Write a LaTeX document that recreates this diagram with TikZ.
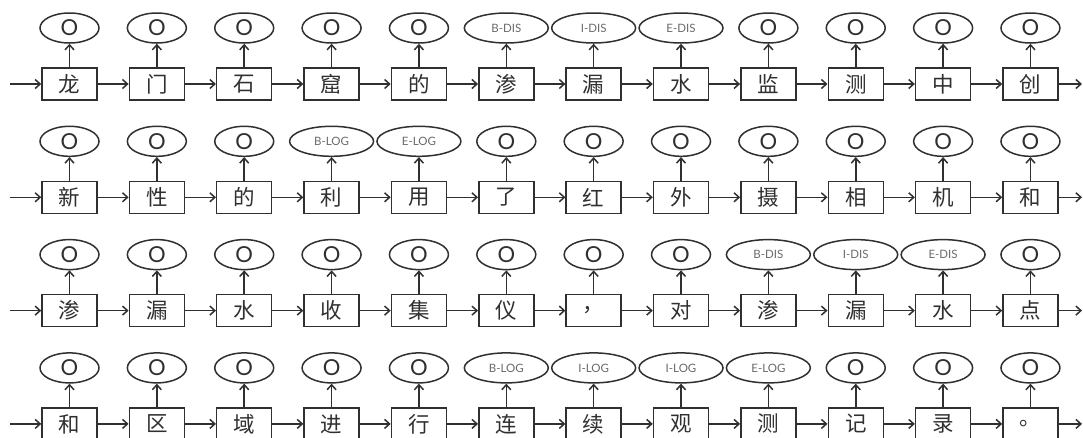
\documentclass[tikz,border=0pt]{standalone}
\usepackage{fontspec}
\setmainfont{Lato}
\newfontfamily\cjk{Noto Sans CJK SC}
\usetikzlibrary{arrows.meta,shapes.geometric}

\definecolor{ink}{HTML}{303030}
\definecolor{labelgray}{HTML}{6a6a6a}

% one row of tokens: characters in boxes, tags in ellipses above
\newcommand\tokrow[2]{%
  \coordinate (in#1) at (10,{84+113.3*#1});
  \coordinate (out#1) at (1082,{84+113.3*#1});
  \foreach \c/\t/\s [count=\i from 0] in {#2}{
    \node[tok] (w#1-\i) at ({69.5+87.36*\i},{84+113.3*#1}) {\c};
    \node[\s] (t#1-\i) at ({69.5+87.36*\i},{28+113.3*#1}) {\t};
    \draw[link] (w#1-\i) -- (t#1-\i);
  }
  \draw[link] (in#1) -- (w#1-0);
  \foreach \i [evaluate=\i as \j using int(\i-1)] in {1,...,11}
    \draw[link] (w#1-\j) -- (w#1-\i);
  \draw[link] (w#1-11) -- (out#1);
}

\begin{document}
\begin{tikzpicture}[x=1pt,y=-1pt,line width=1.5pt,color=ink,
  tok/.style={draw=ink,rectangle,minimum width=55pt,minimum height=32pt,inner sep=0pt,
    text=ink,font=\cjk\fontsize{21.5}{21.5}\selectfont},
  tag/.style={draw=ink,ellipse,minimum width=59pt,minimum height=30pt,inner sep=0pt,
    text=ink,font=\fontsize{22}{22}\selectfont},
  wtag/.style={tag,minimum width=84pt,text=labelgray,font=\fontsize{11.5}{11.5}\selectfont},
  link/.style={draw=ink,-{Straight Barb[length=5pt,width=9pt]}}]
\useasboundingbox (0,0) rectangle (1083,437);
\fill[white] (0,0) rectangle (1083,437);
\clip (0,0) rectangle (1083,437);

\tokrow{0}{龙/O/tag,门/O/tag,石/O/tag,窟/O/tag,的/O/tag,渗/B-DIS/wtag,漏/I-DIS/wtag,水/E-DIS/wtag,监/O/tag,测/O/tag,中/O/tag,创/O/tag}
\tokrow{1}{新/O/tag,性/O/tag,的/O/tag,利/B-LOG/wtag,用/E-LOG/wtag,了/O/tag,红/O/tag,外/O/tag,摄/O/tag,相/O/tag,机/O/tag,和/O/tag}
\tokrow{2}{渗/O/tag,漏/O/tag,水/O/tag,收/O/tag,集/O/tag,仪/O/tag,，/O/tag,对/O/tag,渗/B-DIS/wtag,漏/I-DIS/wtag,水/E-DIS/wtag,点/O/tag}
\tokrow{3}{和/O/tag,区/O/tag,域/O/tag,进/O/tag,行/O/tag,连/B-LOG/wtag,续/I-LOG/wtag,观/I-LOG/wtag,测/E-LOG/wtag,记/O/tag,录/O/tag,。/O/tag}
\end{tikzpicture}
\end{document}
